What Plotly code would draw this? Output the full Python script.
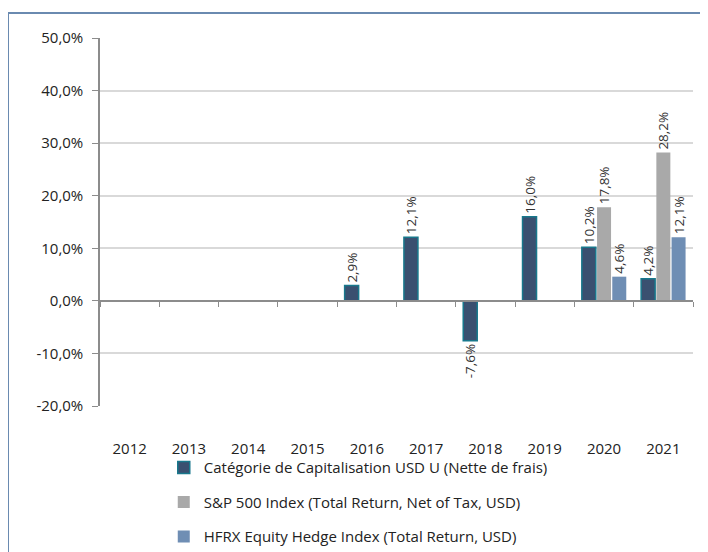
import plotly.graph_objects as go

years = ["2012", "2013", "2014", "2015", "2016", "2017", "2018", "2019", "2020", "2021"]
fund = [None, None, None, None, 2.9, 12.1, -7.6, 16.0, 10.2, 4.2]
sp500 = [None, None, None, None, None, None, None, None, 17.8, 28.2]
hfrx = [None, None, None, None, None, None, None, None, 4.6, 12.1]
y_ticks = [-20, -10, 0, 10, 20, 30, 40, 50]
y_tick_labels = ["-20,0%", "-10,0%", "0,0%", "10,0%", "20,0%", "30,0%", "40,0%", "50,0%"]

names = [
    "Catégorie de Capitalisation USD U (Nette de frais)",
    "S&P 500 Index (Total Return, Net of Tax, USD)",
    "HFRX Equity Hedge Index (Total Return, USD)",
]
fills = ["#3a5070", "#a9a9a9", "#6f8eb4"]
lines = ["#18788c", "#a9a9a9", "#6f8eb4"]
series = [fund, sp500, hfrx]

FONT = "Open Sans"
fig = go.Figure()
for i, (vals, name) in enumerate(zip(series, names)):
    fig.add_trace(go.Bar(
        x=years, y=vals, name=name,
        marker=dict(color=fills[i], line=dict(color=lines[i], width=1.5 if i == 0 else 0)),
        texttemplate="%{y:.1f}%", textposition="outside", textangle=-90,
        textfont=dict(family=FONT, size=13.5, color="#333333"),
        cliponaxis=False, constraintext="none",
        legendgroup=f"g{i}",
    ))

fig.update_layout(
    width=708, height=552,
    margin=dict(l=92, r=23, t=30, b=154, autoexpand=False),
    paper_bgcolor="white", plot_bgcolor="white",
    separators=", ",
    font=dict(family=FONT, size=15, color="#222222"),
    barmode="group", bargap=0.23, bargroupgap=0.08,
    showlegend=True,
    legend=dict(x=0.22, y=0.197, xref="container", yref="container",
                xanchor="left", yanchor="top",
                font=dict(family=FONT, size=15, color="#222222"),
                tracegroupgap=12, itemwidth=30, bgcolor="rgba(0,0,0,0)"),
    xaxis=dict(
        showline=False, showgrid=False, zeroline=False,
        ticks="outside", ticklen=0, ticklabelstandoff=29,
        tickfont=dict(family=FONT, size=15, color="#222222"),
    ),
    xaxis2=dict(
        overlaying="x", anchor="free", position=2 / 7, matches="x",
        showline=True, linecolor="#8c8c8c", linewidth=1.5,
        ticks="outside", tickson="boundaries", ticklen=5, tickcolor="#8c8c8c",
        showticklabels=False, showgrid=False, zeroline=False,
    ),
    yaxis=dict(
        range=[-20, 50], tickmode="array", tickvals=y_ticks, ticktext=y_tick_labels,
        showgrid=True, gridcolor="#d9d9d9", gridwidth=1.5,
        showline=True, linecolor="#8c8c8c", linewidth=1.5,
        ticks="outside", ticklen=6, tickcolor="#8c8c8c", ticklabelstandoff=6,
        zeroline=False,
        tickfont=dict(family=FONT, size=15, color="#222222"),
    ),
    shapes=[dict(type="rect", xref="paper", yref="paper",
                 x0=(8 - 100) / 593, x1=1.1, y0=-0.6, y1=1 + 25 / 368,
                 line=dict(color="#6a8ab0", width=2), fillcolor="rgba(0,0,0,0)", layer="below")],
)
# invisible trace to activate xaxis2
fig.add_trace(go.Bar(x=years, y=[None] * len(years), xaxis="x2", showlegend=False, hoverinfo="skip"))

fig.write_html("out.html")
